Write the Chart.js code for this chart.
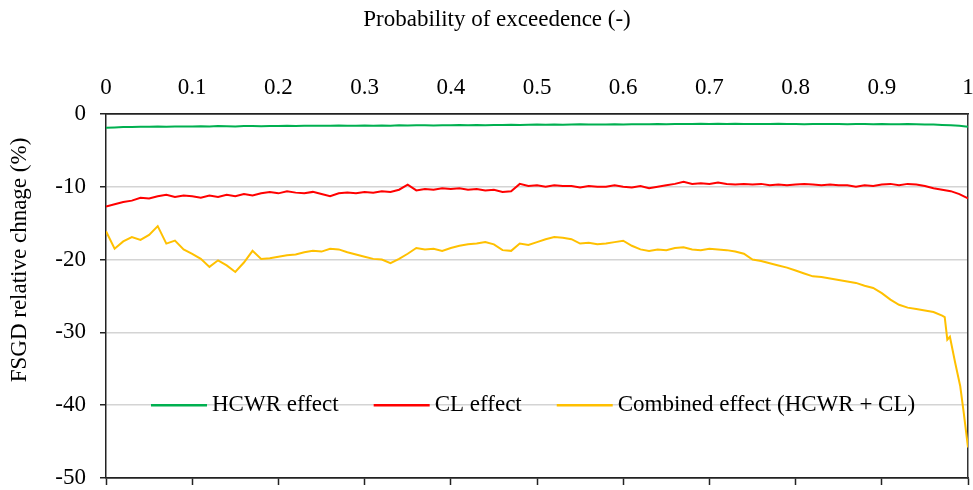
<!DOCTYPE html>
<html>
<head>
<meta charset="utf-8">
<script src="https://cdn.jsdelivr.net/npm/chart.js@4"></script>
<style>
  body { margin: 0; background: #fff; }
  canvas { display: block; }
</style>
</head>
<body>
<canvas id="chart" width="973" height="490"></canvas>
<script>
// Probability of exceedence, 0.01 steps
const probs = [];
for (let i = 0; i <= 100; i++) probs.push(i / 100);

const xTickLabels = ['0', '0.1', '0.2', '0.3', '0.4', '0.5', '0.6', '0.7', '0.8', '0.9', '1'];
const seriesNames = ['HCWR effect', 'CL effect', 'Combined effect (HCWR + CL)'];
const seriesColors = ['#00b050', '#ff0000', '#ffc000'];
const xTitle = 'Probability of exceedence (-)';
const yTitle = 'FSGD relative chnage (%)';

// HCWR effect (%)
const hcwr = [
  -1.9, -1.85, -1.8, -1.8, -1.75, -1.75, -1.7, -1.75, -1.7, -1.72,
  -1.7, -1.68, -1.7, -1.65, -1.68, -1.7, -1.66, -1.65, -1.68, -1.64,
  -1.65, -1.62, -1.66, -1.6, -1.63, -1.6, -1.62, -1.58, -1.6, -1.62,
  -1.58, -1.6, -1.57, -1.6, -1.55, -1.58, -1.56, -1.55, -1.57, -1.53,
  -1.55, -1.52, -1.55, -1.5, -1.53, -1.5, -1.52, -1.48, -1.5, -1.47,
  -1.45, -1.47, -1.44, -1.46, -1.45, -1.42, -1.45, -1.43, -1.44, -1.42,
  -1.43, -1.4, -1.42, -1.4, -1.38, -1.4, -1.37, -1.36, -1.38, -1.35,
  -1.36, -1.34, -1.37, -1.35, -1.36, -1.38, -1.36, -1.37, -1.35, -1.38,
  -1.38, -1.4, -1.37, -1.39, -1.38, -1.36, -1.4, -1.38, -1.37, -1.4,
  -1.38, -1.42, -1.4, -1.38, -1.42, -1.45, -1.43, -1.5, -1.55, -1.62,
  -1.75
];

// CL effect (%)
const cl = [
  -12.7, -12.4, -12.1, -11.9, -11.5, -11.6, -11.3, -11.1, -11.4, -11.2,
  -11.3, -11.5, -11.2, -11.4, -11.1, -11.3, -11.0, -11.2, -10.9, -10.7,
  -10.9, -10.6, -10.8, -10.9, -10.7, -11.0, -11.3, -10.9, -10.8, -10.9,
  -10.7, -10.8, -10.6, -10.7, -10.4, -9.7, -10.5, -10.3, -10.4, -10.2,
  -10.3, -10.2, -10.4, -10.3, -10.5, -10.4, -10.7, -10.6, -9.6, -9.9,
  -9.8, -10.0, -9.8, -9.9, -9.9, -10.1, -9.9, -10.0, -10.0, -9.8,
  -10.0, -10.1, -9.9, -10.2, -10.0, -9.8, -9.6, -9.3, -9.6, -9.5,
  -9.6, -9.4, -9.6, -9.7, -9.6, -9.7, -9.6, -9.8, -9.7, -9.8,
  -9.7, -9.6, -9.7, -9.8, -9.7, -9.8, -9.8, -10.0, -9.8, -9.9,
  -9.7, -9.6, -9.8, -9.6, -9.7, -9.9, -10.2, -10.4, -10.6, -11.0,
  -11.6
];

// Combined effect: denser sampling near the tail
const combinedProbs = [
  0, 0.01, 0.02, 0.03, 0.04, 0.05, 0.06, 0.07, 0.08, 0.09,
  0.1, 0.11, 0.12, 0.13, 0.14, 0.15, 0.16, 0.17, 0.18, 0.19,
  0.2, 0.21, 0.22, 0.23, 0.24, 0.25, 0.26, 0.27, 0.28, 0.29,
  0.3, 0.31, 0.32, 0.33, 0.34, 0.35, 0.36, 0.37, 0.38, 0.39,
  0.4, 0.41, 0.42, 0.43, 0.44, 0.45, 0.46, 0.47, 0.48, 0.49,
  0.5, 0.51, 0.52, 0.53, 0.54, 0.55, 0.56, 0.57, 0.58, 0.59,
  0.6, 0.61, 0.62, 0.63, 0.64, 0.65, 0.66, 0.67, 0.68, 0.69,
  0.7, 0.71, 0.72, 0.73, 0.74, 0.75, 0.76, 0.77, 0.78, 0.79,
  0.8, 0.81, 0.82, 0.83, 0.84, 0.85, 0.86, 0.87, 0.88, 0.89,
  0.9, 0.91, 0.92, 0.93, 0.94, 0.95, 0.96, 0.97,
  0.973, 0.976, 0.979, 0.985, 0.991, 0.995, 1
];
const combined = [
  -16.1, -18.5, -17.5, -16.9, -17.3, -16.6, -15.4, -17.8, -17.4, -18.6,
  -19.2, -19.9, -21.0, -20.1, -20.8, -21.7, -20.4, -18.8, -19.9, -19.8,
  -19.6, -19.4, -19.3, -19.0, -18.8, -18.9, -18.5, -18.6, -19.0, -19.3,
  -19.6, -19.9, -20.0, -20.5, -19.9, -19.2, -18.4, -18.6, -18.5, -18.8,
  -18.4, -18.1, -17.9, -17.8, -17.6, -17.9, -18.7, -18.8, -17.8, -18.0,
  -17.6, -17.2, -16.9, -17.0, -17.2, -17.8, -17.7, -17.9, -17.8, -17.6,
  -17.4, -18.1, -18.6, -18.8, -18.6, -18.7, -18.4, -18.3, -18.6, -18.7,
  -18.5, -18.6, -18.7, -18.9, -19.2, -20.0, -20.2, -20.5, -20.8, -21.1,
  -21.5, -21.9, -22.3, -22.4, -22.6, -22.8, -23.0, -23.2, -23.6, -23.9,
  -24.6, -25.5, -26.2, -26.6, -26.8, -27.0, -27.2, -27.7,
  -27.9, -31.0, -30.6, -34.1, -37.4, -41.0, -45.8
];

const FONT = "'Liberation Serif', 'Times New Roman', serif";

function toPoints(xs, ys) {
  return ys.map((y, i) => ({ x: xs[i], y: y }));
}

// legend drawn inside the plot area, like the original
const insideLegend = {
  id: 'insideLegend',
  afterDatasetsDraw(chart) {
    const ctx = chart.ctx;
    const area = chart.chartArea;
    const y = chart.scales.y.getPixelForValue(-40);
    let x = area.left + 45;
    ctx.save();
    ctx.font = '23px ' + FONT;
    ctx.textBaseline = 'middle';
    ctx.fillStyle = '#000';
    chart.data.datasets.forEach(ds => {
      ctx.strokeStyle = ds.borderColor;
      ctx.lineWidth = 2.5;
      ctx.beginPath();
      ctx.moveTo(x, y);
      ctx.lineTo(x + 56, y);
      ctx.stroke();
      x += 61;
      ctx.fillText(ds.label, x, y);
      x += ctx.measureText(ds.label).width + 35;
    });
    ctx.restore();
  }
};

// axis titles, centred on the whole figure like the Excel original
const axisTitles = {
  id: 'axisTitles',
  afterDraw(chart) {
    const ctx = chart.ctx;
    ctx.save();
    ctx.font = '23px ' + FONT;
    ctx.fillStyle = '#000';
    ctx.textAlign = 'center';
    ctx.textBaseline = 'middle';
    ctx.fillText(xTitle, 497, 20);
    ctx.translate(20, 260);
    ctx.rotate(-Math.PI / 2);
    ctx.fillText(yTitle, 0, 0);
    ctx.restore();
  }
};

new Chart(document.getElementById('chart'), {
  type: 'line',
  data: {
    datasets: [
      { label: seriesNames[0], data: toPoints(probs, hcwr), borderColor: seriesColors[0] },
      { label: seriesNames[1], data: toPoints(probs, cl), borderColor: seriesColors[1] },
      { label: seriesNames[2], data: toPoints(combinedProbs, combined), borderColor: seriesColors[2] }
    ]
  },
  options: {
    responsive: false,
    animation: false,
    devicePixelRatio: 1,
    layout: { padding: { left: 0, top: 0, right: 5, bottom: 0 } },
    elements: {
      point: { radius: 0 },
      line: { borderWidth: 2, tension: 0 }
    },
    plugins: {
      legend: { display: false },
      tooltip: { enabled: false }
    },
    scales: {
      x: {
        type: 'linear',
        position: 'top',
        min: 0,
        max: 1,
        ticks: {
          stepSize: 0.1,
          padding: 12,
          color: '#000',
          font: { family: FONT, size: 23 },
          maxRotation: 0,
          callback: (v, i) => xTickLabels[i]
        },
        grid: { display: false, drawTicks: false },
        border: { color: '#222', width: 1.5 },
        afterFit: axis => {
          axis.height = 114;
          axis.paddingLeft = 0;
          axis.paddingRight = 0;
        }
      },
      xb: {
        type: 'linear',
        position: 'bottom',
        min: 0,
        max: 1,
        ticks: { stepSize: 0.1, display: false },
        grid: { drawOnChartArea: false, drawTicks: true, tickLength: 7, color: '#222', tickWidth: 1.5 },
        border: { color: '#222', width: 1.5 },
        afterFit: axis => {
          axis.height = 12;
          axis.paddingLeft = 0;
          axis.paddingRight = 0;
        }
      },
      y: {
        min: -50,
        max: 0,
        ticks: {
          stepSize: 10,
          padding: 14,
          color: '#000',
          font: { family: FONT, size: 23 }
        },
        grid: {
          color: c => (c.tick && (c.tick.value === 0 || c.tick.value === -50)) ? '#222' : '#d4d4d4',
          lineWidth: 1.5,
          tickLength: 6,
          tickColor: '#222'
        },
        border: { color: '#222', width: 1.5 },
        afterFit: axis => {
          axis.width = 106;
          axis.paddingTop = 0;
          axis.paddingBottom = 0;
        }
      },
      yr: {
        position: 'right',
        min: -50,
        max: 0,
        ticks: { display: false },
        grid: { display: false, drawTicks: false },
        border: { color: '#333', width: 1.5 },
        afterFit: axis => {
          axis.width = 0;
          axis.paddingTop = 0;
          axis.paddingBottom = 0;
        }
      }
    }
  },
  plugins: [insideLegend, axisTitles]
});
</script>
</body>
</html>
